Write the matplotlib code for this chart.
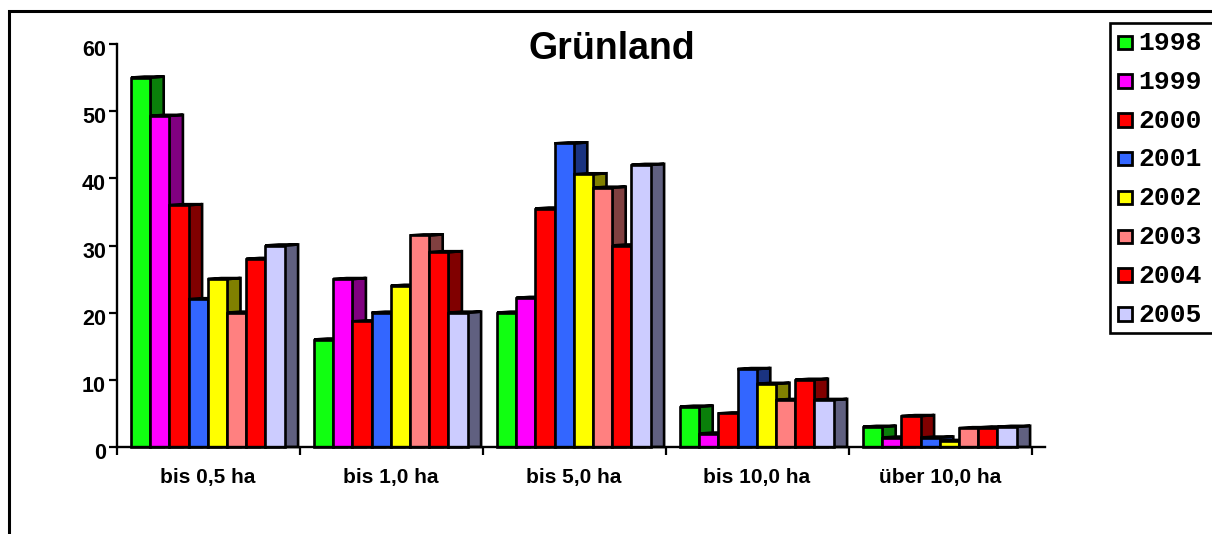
import matplotlib
matplotlib.use("Agg")
import matplotlib.pyplot as plt
from matplotlib.patches import Polygon, Rectangle
from matplotlib.transforms import ScaledTranslation

CATEGORIES = ["bis 0,5 ha", "bis 1,0 ha", "bis 5,0 ha", "bis 10,0 ha", "über 10,0 ha"]
YEARS = ["1998", "1999", "2000", "2001", "2002", "2003", "2004", "2005"]
Y_TICKS = [0, 10, 20, 30, 40, 50, 60]

V1998 = [55, 16, 20, 6, 3]
V1999 = [49.3, 25, 22.2, 2, 1.4]
V2000 = [36, 18.7, 35.5, 5, 4.6]
V2001 = [22, 20, 45.2, 11.6, 1.4]
V2002 = [25, 24, 40.6, 9.4, 0.9]
V2003 = [20, 31.5, 38.6, 7, 2.8]
V2004 = [28, 29, 30, 10, 2.9]
V2005 = [30, 20, 42, 7, 3]
SERIES = [V1998, V1999, V2000, V2001, V2002, V2003, V2004, V2005]

FRONT = ["#11ff11", "#ff00ff", "#ff0000", "#3366ff", "#ffff00", "#ff8080", "#ff0000", "#ccccff"]
SIDE = ["#0a7f0a", "#800080", "#800000", "#1a3380", "#808000", "#804040", "#800000", "#606080"]

W, H = 1212, 534
X0, X1, Y0, Y60 = 116.5, 1045, 447, 44
CAT_W = 183

BAR_W = 19.2 / CAT_W
DEPTH = 13.5 / CAT_W
RISE = 0.15
OFFSET = 14.5 / CAT_W
LW = 1.9

fig = plt.figure(figsize=(W / 100, H / 100), dpi=100)
plt.rcParams["font.family"] = "Liberation Sans"

# overlay in pixel coords for the frame and the legend
bg = fig.add_axes([0, 0, 1, 1])
bg.set_xlim(0, W)
bg.set_ylim(H, 0)
bg.axis("off")
bg.plot([8.5, 8.5, W], [H, 11, 11], color="black", lw=2.2, solid_joinstyle="miter")

ax = fig.add_axes([X0 / W, 1 - Y0 / H, (X1 - X0) / W, (Y0 - Y60) / H])
ax.patch.set_alpha(0)
ax.set_xlim(0, (X1 - X0) / CAT_W)
ax.set_ylim(0, 60)

for i, (vals, front, side) in enumerate(zip(SERIES, FRONT, SIDE)):
    for c, v in enumerate(vals):
        left = c + OFFSET + i * BAR_W
        right = left + BAR_W
        ax.add_patch(Polygon([(right, 0), (right, v), (right + DEPTH, v + RISE), (right + DEPTH, 0)],
                             fc=side, ec="black", lw=LW, joinstyle="miter", clip_on=False, zorder=2 + i * 0.1))
        ax.add_patch(Polygon([(left, v), (left + BAR_W, v), (right + DEPTH, v + RISE), (left + DEPTH, v + RISE)],
                             fc=side, ec="black", lw=LW, joinstyle="miter", clip_on=False, zorder=2 + i * 0.1))
        ax.add_patch(Rectangle((left, 0), BAR_W, v, fc=front, ec="black", lw=LW,
                               joinstyle="miter", clip_on=False, zorder=2 + i * 0.1 + 0.01))

for s in ["top", "right"]:
    ax.spines[s].set_visible(False)
for s in ["left", "bottom"]:
    ax.spines[s].set_linewidth(1.7)
    ax.spines[s].set_zorder(5)

ax.set_yticks(Y_TICKS)
ax.set_yticklabels([str(t) for t in Y_TICKS], fontsize=15.5, fontweight="bold")
ax.tick_params(axis="y", length=6, width=1.6, pad=1.5)
shift = ScaledTranslation(0, -4 / 100, fig.dpi_scale_trans)
for lab in ax.get_yticklabels():
    lab.set_transform(lab.get_transform() + shift)

ax.set_xticks(range(len(CATEGORIES) + 1))
ax.set_xticklabels([])
ax.tick_params(axis="x", length=6, width=1.6)
ax.set_xticks([c + 0.5 for c in range(len(CATEGORIES))], minor=True)
ax.set_xticklabels(CATEGORIES, minor=True, fontsize=15, fontweight="bold")
ax.tick_params(axis="x", which="minor", length=0, pad=15)

bg.text(612, 49, "Grünland", ha="center", va="center", fontsize=27, fontweight="bold")

# legend
bg.add_patch(Rectangle((1110, 23), 110, 310, fc="white", ec="black", lw=1.9))
for k, (year, front) in enumerate(zip(YEARS, FRONT)):
    yc = 42 + k * 38.8
    bg.add_patch(Rectangle((1118, yc - 6.5), 13.5, 13.5, fc=front, ec="black", lw=2))
    bg.text(1138, yc + 1, year, ha="left", va="center", fontsize=19,
            family="Liberation Mono", fontweight="bold")

fig.savefig("out.png", dpi=100)
